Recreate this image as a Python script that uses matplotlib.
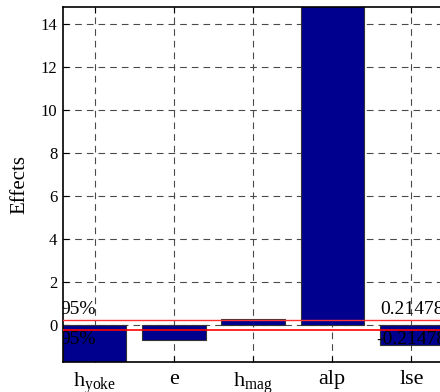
import matplotlib
matplotlib.use("Agg")
import matplotlib.pyplot as plt

categories = [r"h$_{\mathrm{yoke}}$", "e", r"h$_{\mathrm{mag}}$", "alp", "lse"]
effects = [-2.0, -0.70, 0.28, 16.0, -0.93]
threshold = 0.21478
yticks = [0, 2, 4, 6, 8, 10, 12, 14]

plt.rcParams["font.family"] = ["Liberation Serif", "DejaVu Serif"]
plt.rcParams["mathtext.fontset"] = "custom"
plt.rcParams["mathtext.rm"] = "Liberation Serif"
plt.rcParams["mathtext.it"] = "Liberation Serif:italic"

fig = plt.figure(figsize=(4.4, 3.92), dpi=100)
ax = fig.add_axes([63 / 440, 30 / 392, 1.0, 355 / 392])

x = list(range(1, len(categories) + 1))
ax.bar(x, effects, width=0.8, color="#00008F", edgecolor="#333333",
       linewidth=0.8, zorder=2)

ax.set_xlim(0.6, 0.6 + 440 / 79.2)
ax.set_ylim(-1.72, 14.79)
ax.set_yticks(yticks)
ax.set_xticks(x)
ax.set_xticklabels(categories, fontsize=16)
ax.tick_params(axis="y", labelsize=12, direction="in", length=4, pad=4)
ax.tick_params(axis="x", direction="in", length=4, pad=6)
ax.tick_params(top=True, right=True)

ax.grid(True, linestyle=(0, (6, 4.5)), color="#4a4a4a", linewidth=0.8, zorder=0)
ax.set_axisbelow(True)

for s in ax.spines.values():
    s.set_linewidth(1.2)
    s.set_color("black")

ax.axhline(threshold, color="#ff3030", linewidth=1.0, zorder=3)
ax.axhline(-threshold, color="red", linewidth=1.2, zorder=3)

ax.text(0.57, threshold + 0.12, "95%", ha="left", va="bottom", fontsize=14,
        zorder=4, clip_on=True)
ax.text(0.57, -threshold - 0.08, "95%", ha="left", va="top", fontsize=14,
        zorder=4, clip_on=True)
ax.text(4.61, threshold + 0.12, f"{threshold:g}", ha="left", va="bottom",
        fontsize=14, zorder=4)
ax.text(4.55, -threshold - 0.08, f"{-threshold:g}", ha="left", va="top",
        fontsize=14, zorder=4)

ax.set_ylabel("Effects", fontsize=15, labelpad=8)

fig.savefig("out.png", dpi=100)
